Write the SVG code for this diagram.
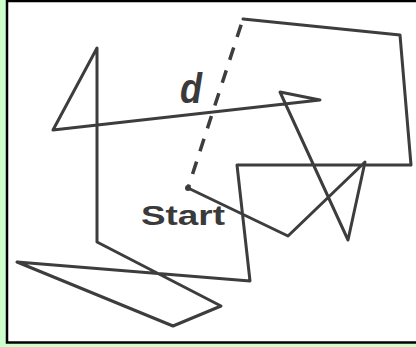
<svg xmlns="http://www.w3.org/2000/svg" width="416" height="347" viewBox="0 0 416 347">
  <style>
    .walk { fill: none; stroke: #3d3d3d; stroke-width: 3; stroke-linejoin: round; stroke-linecap: round; }
    .dash { fill: none; stroke: #3d3d3d; stroke-width: 3.5; stroke-dasharray: 13 11; stroke-dashoffset: -6; stroke-linecap: butt; }
    .lbl { font-family: "Liberation Sans", Arial, sans-serif; font-weight: bold; fill: #3a3a3a; }
  </style>
  <rect x="0" y="0" width="416" height="347" fill="#ccffcc"/>
  <rect x="7" y="1" width="420" height="341.5" fill="#ffffff" stroke="#000000" stroke-width="2.5"/>
  <g id="connectors">
    <polyline class="walk" points="188,188 288,236 365,162 348,240 280,92 320,100 53,130 97,48 97,242 221,306 173,326 17,262 250,281 237,165 411,165 400,35 243,19"/>
    <line class="dash" x1="243" y1="19" x2="188" y2="188"/>
  </g>
  <g id="start">
    <circle cx="188" cy="188" r="3" fill="#3d3d3d"/>
    <text class="lbl" x="141" y="225" font-size="28" textLength="84" lengthAdjust="spacingAndGlyphs">Start</text>
  </g>
  <g id="label-d">
    <text class="lbl" x="180" y="103" font-size="42" font-style="italic" textLength="22" lengthAdjust="spacingAndGlyphs">d</text>
  </g>
</svg>
